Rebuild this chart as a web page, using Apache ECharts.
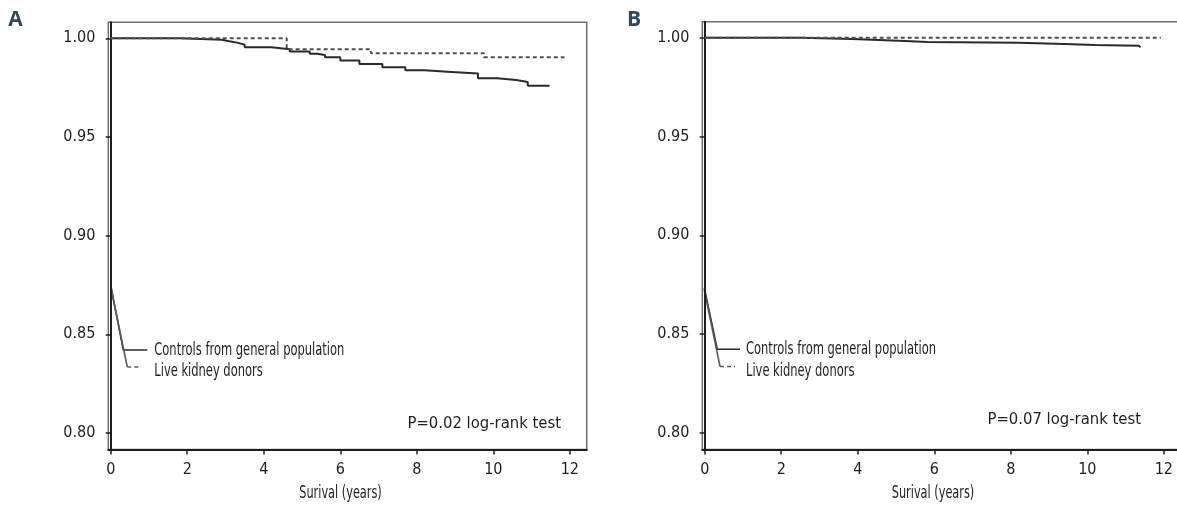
<!DOCTYPE html>
<html>
<head>
<meta charset="utf-8">
<script src="https://cdn.jsdelivr.net/npm/echarts@6/dist/echarts.min.js"></script>
<style>
  html, body { margin: 0; padding: 0; background: #fff; }
  #chart { width: 1177px; height: 510px; }
</style>
</head>
<body>
<div id="chart"></div>
<script>
// Kaplan-Meier steps: time (years) where each level starts, and the survival level
const ctrlTimesA = [0, 1.8, 2.9, 3.1, 3.3, 3.5, 4.2, 4.68, 5.2, 5.4, 5.6, 6.0, 6.5, 7.1, 7.7, 8.2, 8.8, 9.6, 10.1, 10.6, 10.9, 11.47];
const ctrlSurvA  = [1.0, 0.9993, 0.9985, 0.9978, 0.9968, 0.9955, 0.9945, 0.9933, 0.9922, 0.9915, 0.9904, 0.9888, 0.9870, 0.9853, 0.9838, 0.9831, 0.9822, 0.9797, 0.9789, 0.9779, 0.9760, 0.9760];
const donorTimesA = [0, 4.6, 6.8, 9.75, 11.86];
const donorSurvA  = [1.0, 0.9944, 0.9924, 0.9904, 0.9904];

const ctrlTimesB = [0, 2.5, 3.85, 5.24, 5.82, 8.2, 9.4, 10.2, 11.35, 11.39];
const ctrlSurvB  = [1.0, 0.9993, 0.9983, 0.9978, 0.9974, 0.9968, 0.9963, 0.9959, 0.9952, 0.9952];
const donorTimesB = [0, 11.92];
const donorSurvB  = [1.0, 1.0];

const xTicks = [0, 2, 4, 6, 8, 10, 12];
const yTicks = [0.80, 0.85, 0.90, 0.95, 1.00];

const panelLabels = ["A", "B"];
const legendNames = ["Controls from general population", "Live kidney donors"];
const pValueTexts = ["P=0.02 log-rank test", "P=0.07 log-rank test"];
const xAxisName = "Surival (years)";

const FONT = '"Liberation Sans Narrow", "DejaVu Sans Condensed", sans-serif';
const INK = "#1e1e1e";

function pairs(ts, vs) {
  return ts.map((t, i) => [t, vs[i]]);
}

const grids = [
  { left: 108.3, top: 22.3, width: 478.4, height: 427.2 },
  { left: 702.3, top: 21.7, width: 478.4, height: 427.8 }
];

function xAxisFor(i) {
  return {
    type: "value",
    gridIndex: i,
    min: -0.063,
    max: 12.44,
    axisLine: { onZero: false, lineStyle: { color: INK, width: 2 } },
    axisTick: { customValues: xTicks, length: 5, lineStyle: { color: INK, width: 1.5 } },
    axisLabel: { customValues: xTicks, margin: 12, fontFamily: FONT, fontSize: 16, color: INK },
    splitLine: { show: false }
  };
}

function yAxisFor(i) {
  return {
    type: "value",
    gridIndex: i,
    min: 0.7916,
    max: 1.0081,
    axisLine: { show: true, onZero: true, lineStyle: { color: INK, width: 2 } },
    axisTick: { show: true, customValues: yTicks, length: 5, lineStyle: { color: INK, width: 1.5 } },
    axisLabel: {
      customValues: yTicks,
      margin: 13,
      fontFamily: FONT,
      fontSize: 16,
      color: INK,
      formatter: (v) => v.toFixed(2)
    },
    splitLine: { show: false }
  };
}

function kmSeries(name, data, i, dashed) {
  return {
    name: name,
    type: "line",
    xAxisIndex: i,
    yAxisIndex: i,
    step: "end",
    data: data,
    symbol: "none",
    showSymbol: false,
    silent: true,
    lineStyle: dashed
      ? { color: "#505050", width: 2, type: [4, 3] }
      : { color: "#2a2a2a", width: 2 },
    z: dashed ? 3 : 2
  };
}

// text drawn a little condensed to match the narrow face of the original
function textEl(text, x, y, size, align, squeeze) {
  return {
    type: "text",
    silent: true,
    x: x,
    y: y,
    scaleX: squeeze,
    style: {
      text: text, x: 0, y: 0, font: size + "px " + FONT, fill: INK,
      align: align, textAlign: align,
      verticalAlign: "middle", textVerticalAlign: "middle"
    }
  };
}

function lineEl(points, color, dash) {
  return {
    type: "polyline",
    silent: true,
    shape: { points: points },
    style: { stroke: color, lineWidth: 1.6, fill: null, lineDash: dash || null }
  };
}

// legend leaders and annotations, per panel
const ann = [
  { axisX: 110.7, start: 285, solidEnd: [123.3, 350], solidTo: 147.3, dashEnd: [127.3, 367], dashTo: 140, textX: 154.3, pX: 561, pY: 424, letterX: 15.5, nameX: 340.5 },
  { axisX: 704.3, start: 288, solidEnd: [717.3, 349.3], solidTo: 740, dashEnd: [720, 366.5], dashTo: 735, textX: 746, pX: 1141, pY: 420, letterX: 634, nameX: 933 }
];

const graphics = [];
ann.forEach((a, i) => {
  graphics.push(lineEl([[a.axisX, a.start], a.solidEnd, [a.solidTo, a.solidEnd[1]]], "#2a2a2a"));
  graphics.push(lineEl([[a.axisX, a.start + 2], a.dashEnd], "#5a5a5a"));
  graphics.push(lineEl([a.dashEnd, [a.dashTo, a.dashEnd[1]]], "#5a5a5a", [4, 3]));
  graphics.push(textEl(legendNames[0], a.textX, a.solidEnd[1], 17.5, "left", 0.73));
  graphics.push(textEl(legendNames[1], a.textX, a.dashEnd[1] + 4.5, 17.5, "left", 0.73));
  graphics.push(textEl(pValueTexts[i], a.pX, a.pY, 16.5, "right", 1));
  graphics.push(textEl(xAxisName, a.nameX, 494, 17, "center", 0.74));
  graphics.push({
    type: "text",
    silent: true,
    style: {
      text: panelLabels[i], x: a.letterX, y: 20.5,
      font: "bold 21px \"Open Sans\", \"Noto Sans\", sans-serif", fill: "#2f4a56",
      align: "center", textAlign: "center", verticalAlign: "middle", textVerticalAlign: "middle"
    }
  });
});

const chart = echarts.init(document.getElementById("chart"), null, { renderer: "canvas" });
chart.setOption({
  animation: false,
  backgroundColor: "#ffffff",
  grid: grids.map((g) => Object.assign({
    show: true, borderColor: "#6e6e6e", borderWidth: 1.5, backgroundColor: "transparent",
    containLabel: false, outerBoundsMode: "none"
  }, g)),
  xAxis: [xAxisFor(0), xAxisFor(1)],
  yAxis: [yAxisFor(0), yAxisFor(1)],
  series: [
    kmSeries(legendNames[0], pairs(ctrlTimesA, ctrlSurvA), 0, false),
    kmSeries(legendNames[1], pairs(donorTimesA, donorSurvA), 0, true),
    kmSeries(legendNames[0], pairs(ctrlTimesB, ctrlSurvB), 1, false),
    kmSeries(legendNames[1], pairs(donorTimesB, donorSurvB), 1, true)
  ],
  graphic: { elements: graphics }
});
</script>
</body>
</html>
